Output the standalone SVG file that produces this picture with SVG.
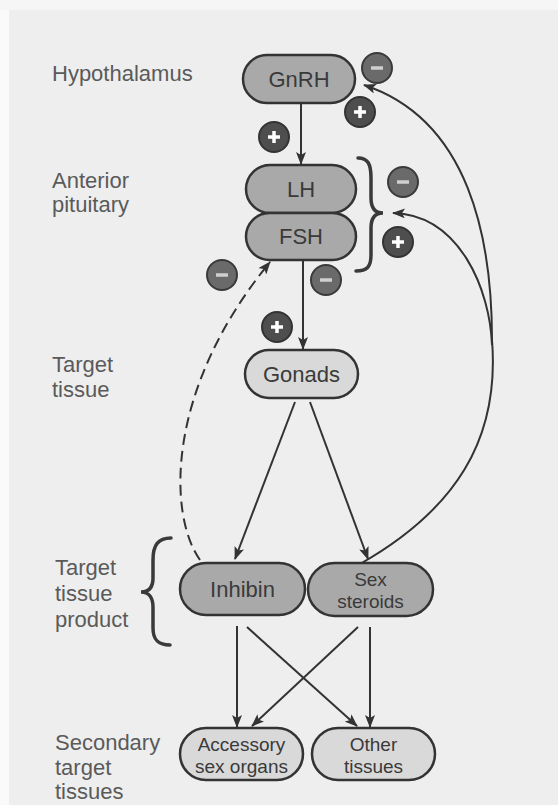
<svg xmlns="http://www.w3.org/2000/svg" width="558" height="805" viewBox="0 0 558 805">
<style>
.bg{fill:#eeeeee}
.lab{font-family:"Liberation Sans",Arial,sans-serif;font-size:22px;fill:#5a5a5a}
.box{stroke:#333;stroke-width:2.5}
.dark{fill:#a9a9a9}
.light{fill:#d9d9d9}
.t{font-family:"Liberation Sans",Arial,sans-serif;font-size:22px;fill:#3a3a3a;text-anchor:middle}
.ts{font-family:"Liberation Sans",Arial,sans-serif;font-size:19px;fill:#3a3a3a;text-anchor:middle}
.con{fill:none;stroke:#333;stroke-width:2}
.dash{stroke-dasharray:11 6}
.brace{fill:none;stroke:#3a3a3a;stroke-width:3.5;stroke-linecap:round}
.cm{fill:#6a6a6a;stroke:#3a3a3a;stroke-width:2}
.cp{fill:#4e4e4e;stroke:#333;stroke-width:2}
.sm{stroke:#cfcfcf;stroke-width:3.5}
.sp{stroke:#fff;stroke-width:3.5}
</style>
<defs>
<marker id="ah" viewBox="0 0 13 10" refX="12" refY="5" markerWidth="13" markerHeight="10" markerUnits="userSpaceOnUse" orient="auto">
<path d="M0,0 L13,5 L0,10 L3,5 z" fill="#333"/>
</marker>
<g id="minus"><circle r="15" class="cm"/><line x1="-6" y1="0" x2="6" y2="0" class="sm"/></g>
<g id="plus"><circle r="15" class="cp"/><line x1="-6" y1="0" x2="6" y2="0" class="sp"/><line x1="0" y1="-6" x2="0" y2="6" class="sp"/></g>
</defs>
<rect class="bg" x="0" y="0" width="558" height="805"/>
<rect x="0" y="0" width="9" height="805" fill="#fafafa"/>
<rect x="0" y="0" width="558" height="10" fill="#f6f6f6"/>

<g id="labels">
<text class="lab" x="52" y="81">Hypothalamus</text>
<text class="lab" x="52" y="188">Anterior</text>
<text class="lab" x="52" y="212">pituitary</text>
<text class="lab" x="52" y="372">Target</text>
<text class="lab" x="52" y="397">tissue</text>
<text class="lab" x="55" y="575">Target</text>
<text class="lab" x="55" y="601">tissue</text>
<text class="lab" x="55" y="627">product</text>
<text class="lab" x="55" y="750">Secondary</text>
<text class="lab" x="55" y="775">target</text>
<text class="lab" x="55" y="799">tissues</text>
</g>

<g id="connectors">
<line class="con" x1="301" y1="104" x2="301" y2="164" marker-end="url(#ah)"/>
<line class="con" x1="303" y1="261" x2="303" y2="349" marker-end="url(#ah)"/>
<line class="con" x1="295" y1="402" x2="235" y2="559" marker-end="url(#ah)"/>
<line class="con" x1="310" y1="402" x2="368" y2="559" marker-end="url(#ah)"/>
<line class="con" x1="237" y1="626" x2="237" y2="727" marker-end="url(#ah)"/>
<line class="con" x1="247" y1="627" x2="357" y2="726" marker-end="url(#ah)"/>
<line class="con" x1="358" y1="627" x2="252" y2="726" marker-end="url(#ah)"/>
<line class="con" x1="370" y1="627" x2="370" y2="727" marker-end="url(#ah)"/>
<path class="con dash" d="M200,560 C168,515 165,390 270,262" marker-end="url(#ah)"/>
<path class="con" d="M360,564 C455,510 500,440 492,340 C492,240 470,120 364,85" marker-end="url(#ah)"/>
<path class="con" d="M492,345 C490,290 460,215 393,213" marker-end="url(#ah)"/>
</g>

<g id="braces">
<path class="brace" d="M358,158 C368,158 371,164 371,178 L371,198 C371,208 375,213 383,213 C375,213 371,218 371,228 L371,255 C371,267 367,271 356,271"/>
<path class="brace" d="M171,538 C158,538 153,545 153,560 L153,578 C153,587 149,592 141,592 C149,592 153,598 153,607 L153,628 C153,640 158,645 170,645"/>
</g>

<g id="GnRH"><rect class="box dark" x="243" y="55" width="112" height="48" rx="24"/><text class="t" x="299" y="87">GnRH</text></g>
<g id="LH"><rect class="box dark" x="246" y="165" width="110" height="48" rx="24"/><text class="t" x="301" y="197">LH</text></g>
<g id="FSH"><rect class="box dark" x="246" y="213" width="110" height="47" rx="23.5"/><text class="t" x="301" y="244">FSH</text></g>
<g id="Gonads"><rect class="box light" x="245" y="350" width="113" height="48" rx="24"/><text class="t" x="301.5" y="382">Gonads</text></g>
<g id="Inhibin"><rect class="box dark" x="180" y="563" width="125" height="52" rx="26"/><text class="t" x="242.5" y="597">Inhibin</text></g>
<g id="SexSteroids"><rect class="box dark" x="308" y="563" width="125" height="53" rx="26.5"/><text class="ts" x="370.5" y="586">Sex</text><text class="ts" x="370.5" y="608">steroids</text></g>
<g id="Accessory"><rect class="box light" x="180" y="728" width="123" height="52" rx="26"/><text class="ts" x="241.5" y="751">Accessory</text><text class="ts" x="241.5" y="773">sex organs</text></g>
<g id="OtherTissues"><rect class="box light" x="312" y="728" width="123" height="52" rx="26"/><text class="ts" x="373.5" y="751">Other</text><text class="ts" x="373.5" y="773">tissues</text></g>

<g id="signs">
<use href="#minus" x="377" y="68"/>
<use href="#plus" x="360" y="112"/>
<use href="#plus" x="274" y="137"/>
<use href="#minus" x="403" y="182"/>
<use href="#plus" x="398" y="242"/>
<use href="#minus" x="222" y="275"/>
<use href="#minus" x="326" y="280"/>
<use href="#plus" x="277" y="327"/>
</g>
</svg>
